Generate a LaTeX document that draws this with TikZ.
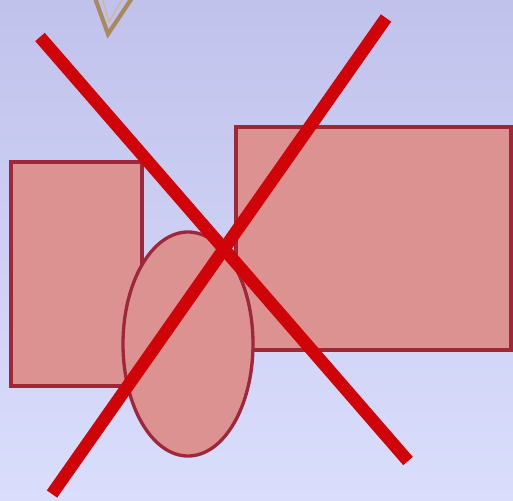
\documentclass[tikz,border=0pt]{standalone}
\usepackage{tikz}
\usetikzlibrary{shapes.geometric}
\definecolor{bgtop}{RGB}{192,194,236}
\definecolor{bgbot}{RGB}{218,222,252}
\definecolor{shapefill}{RGB}{221,146,146}
\definecolor{shapeedge}{RGB}{160,38,58}
\definecolor{crossred}{RGB}{208,4,8}
\definecolor{chevtan}{RGB}{170,138,92}

\begin{document}
\begin{tikzpicture}[
  x=0.02cm, y=-0.02cm,
  block/.style={draw=shapeedge,fill=shapefill,line width=1.9pt},
  strike/.style={draw=crossred,line width=7.2pt},
  chev/.style={draw=chevtan,line width=2.4pt,line join=miter}
]
  % background
  \shade[top color=bgtop,bottom color=bgbot] (0,0) rectangle (513,500);
  \useasboundingbox (0,0) rectangle (513,500);

  % pointer tip
  \draw[chev] (95,-2) -- (108,34) -- (132,-2);
  \draw[chevtan!60!white,line width=0.8pt] (102,-2) -- (109,22) -- (123,-2);

  % shapes
  \draw[block] (11,162) rectangle (142,386);
  \draw[block] (236,127) rectangle (511,350);
  \draw[block] (188,344) ellipse [x radius=65,y radius=112];

  % cross
  \coordinate (tl) at (40,37);
  \coordinate (br) at (408,461);
  \coordinate (tr) at (386,18);
  \coordinate (bl) at (52,494);
  \draw[strike] (tl) -- (br);
  \draw[strike] (tr) -- (bl);
\end{tikzpicture}
\end{document}
